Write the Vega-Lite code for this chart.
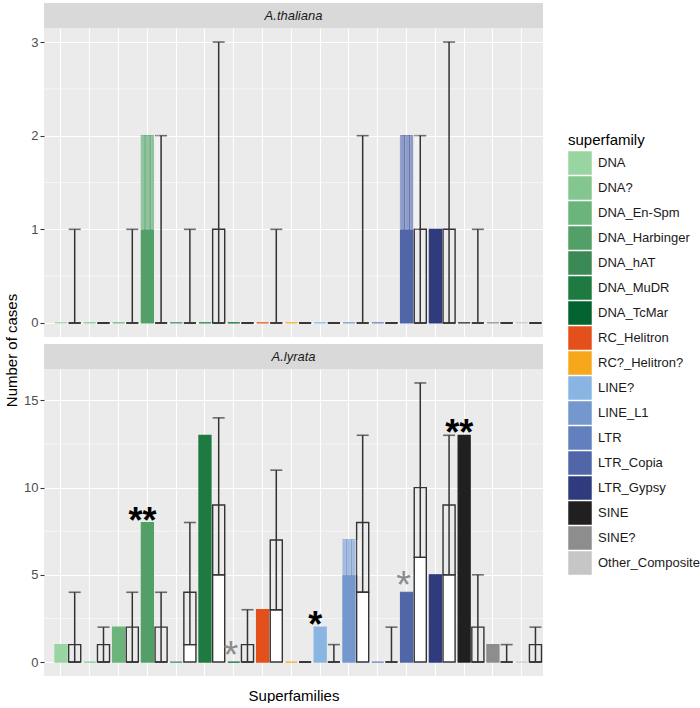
{
  "$schema": "https://vega.github.io/schema/vega-lite/v6.json",
  "padding": {"left": 4, "top": 3, "right": 0, "bottom": 0},
  "config": {
    "font": "Liberation Sans",
    "view": {"stroke": null},
    "axis": {"gridColor": "#ffffff", "gridWidth": 1.1, "labelColor": "#4d4d4d", "labelFontSize": 13, "tickColor": "#333333", "tickSize": 4, "tickWidth": 1.1, "titleColor": "#000000", "titleFontWeight": "normal", "titleFontSize": 15, "domain": false}
  },
  "datasets": {
    "main": [
      {"species": "A.thaliana", "superfamily": "DNA", "observed": 0, "q1": 0, "median": 0, "q3": 0, "max": 1},
      {"species": "A.thaliana", "superfamily": "DNA?", "observed": 0, "q1": 0, "median": 0, "q3": 0, "max": 0},
      {"species": "A.thaliana", "superfamily": "DNA_En-Spm", "observed": 0, "q1": 0, "median": 0, "q3": 0, "max": 1},
      {"species": "A.thaliana", "superfamily": "DNA_Harbinger", "observed": 2, "q1": 0, "median": 0, "q3": 0, "max": 2},
      {"species": "A.thaliana", "superfamily": "DNA_hAT", "observed": 0, "q1": 0, "median": 0, "q3": 0, "max": 1},
      {"species": "A.thaliana", "superfamily": "DNA_MuDR", "observed": 0, "q1": 0, "median": 0, "q3": 1, "max": 3},
      {"species": "A.thaliana", "superfamily": "DNA_TcMar", "observed": 0, "q1": 0, "median": 0, "q3": 0, "max": 0},
      {"species": "A.thaliana", "superfamily": "RC_Helitron", "observed": 0, "q1": 0, "median": 0, "q3": 0, "max": 1},
      {"species": "A.thaliana", "superfamily": "RC?_Helitron?", "observed": 0, "q1": 0, "median": 0, "q3": 0, "max": 0},
      {"species": "A.thaliana", "superfamily": "LINE?", "observed": 0, "q1": 0, "median": 0, "q3": 0, "max": 0},
      {"species": "A.thaliana", "superfamily": "LINE_L1", "observed": 0, "q1": 0, "median": 0, "q3": 0, "max": 2},
      {"species": "A.thaliana", "superfamily": "LTR", "observed": 0, "q1": 0, "median": 0, "q3": 0, "max": 0},
      {"species": "A.thaliana", "superfamily": "LTR_Copia", "observed": 2, "q1": 0, "median": 0, "q3": 1, "max": 2},
      {"species": "A.thaliana", "superfamily": "LTR_Gypsy", "observed": 1, "q1": 0, "median": 0, "q3": 1, "max": 3},
      {"species": "A.thaliana", "superfamily": "SINE", "observed": 0, "q1": 0, "median": 0, "q3": 0, "max": 1},
      {"species": "A.thaliana", "superfamily": "SINE?", "observed": 0, "q1": 0, "median": 0, "q3": 0, "max": 0},
      {"species": "A.thaliana", "superfamily": "Other_Composite", "observed": 0, "q1": 0, "median": 0, "q3": 0, "max": 0},
      {"species": "A.lyrata", "superfamily": "DNA", "observed": 1, "q1": 0, "median": 0, "q3": 1, "max": 4},
      {"species": "A.lyrata", "superfamily": "DNA?", "observed": 0, "q1": 0, "median": 0, "q3": 1, "max": 2},
      {"species": "A.lyrata", "superfamily": "DNA_En-Spm", "observed": 2, "q1": 0, "median": 0, "q3": 2, "max": 4},
      {"species": "A.lyrata", "superfamily": "DNA_Harbinger", "observed": 8, "q1": 0, "median": 0, "q3": 2, "max": 4},
      {"species": "A.lyrata", "superfamily": "DNA_hAT", "observed": 0, "q1": 0, "median": 1, "q3": 4, "max": 8},
      {"species": "A.lyrata", "superfamily": "DNA_MuDR", "observed": 13, "q1": 0, "median": 5, "q3": 9, "max": 14},
      {"species": "A.lyrata", "superfamily": "DNA_TcMar", "observed": 0, "q1": 0, "median": 0, "q3": 1, "max": 3},
      {"species": "A.lyrata", "superfamily": "RC_Helitron", "observed": 3, "q1": 0, "median": 3, "q3": 7, "max": 11},
      {"species": "A.lyrata", "superfamily": "RC?_Helitron?", "observed": 0, "q1": 0, "median": 0, "q3": 0, "max": 0},
      {"species": "A.lyrata", "superfamily": "LINE?", "observed": 2, "q1": 0, "median": 0, "q3": 0, "max": 1},
      {"species": "A.lyrata", "superfamily": "LINE_L1", "observed": 7, "q1": 0, "median": 4, "q3": 8, "max": 13},
      {"species": "A.lyrata", "superfamily": "LTR", "observed": 0, "q1": 0, "median": 0, "q3": 0, "max": 2},
      {"species": "A.lyrata", "superfamily": "LTR_Copia", "observed": 4, "q1": 0, "median": 6, "q3": 10, "max": 16},
      {"species": "A.lyrata", "superfamily": "LTR_Gypsy", "observed": 5, "q1": 0, "median": 5, "q3": 9, "max": 13},
      {"species": "A.lyrata", "superfamily": "SINE", "observed": 13, "q1": 0, "median": 0, "q3": 2, "max": 5},
      {"species": "A.lyrata", "superfamily": "SINE?", "observed": 1, "q1": 0, "median": 0, "q3": 0, "max": 1},
      {"species": "A.lyrata", "superfamily": "Other_Composite", "observed": 0, "q1": 0, "median": 0, "q3": 1, "max": 2}
    ],
    "hatch": [
      {"species": "A.thaliana", "superfamily": "DNA_Harbinger", "lo": 1, "hi": 2, "stripe": "s1"},
      {"species": "A.thaliana", "superfamily": "DNA_Harbinger", "lo": 1, "hi": 2, "stripe": "s2"},
      {"species": "A.thaliana", "superfamily": "DNA_Harbinger", "lo": 1, "hi": 2, "stripe": "s3"},
      {"species": "A.thaliana", "superfamily": "DNA_Harbinger", "lo": 1, "hi": 2, "stripe": "s4"},
      {"species": "A.thaliana", "superfamily": "LTR_Copia", "lo": 1, "hi": 2, "stripe": "s1"},
      {"species": "A.thaliana", "superfamily": "LTR_Copia", "lo": 1, "hi": 2, "stripe": "s2"},
      {"species": "A.thaliana", "superfamily": "LTR_Copia", "lo": 1, "hi": 2, "stripe": "s3"},
      {"species": "A.thaliana", "superfamily": "LTR_Copia", "lo": 1, "hi": 2, "stripe": "s4"},
      {"species": "A.lyrata", "superfamily": "LINE_L1", "lo": 5, "hi": 7, "stripe": "s1"},
      {"species": "A.lyrata", "superfamily": "LINE_L1", "lo": 5, "hi": 7, "stripe": "s2"},
      {"species": "A.lyrata", "superfamily": "LINE_L1", "lo": 5, "hi": 7, "stripe": "s3"},
      {"species": "A.lyrata", "superfamily": "LINE_L1", "lo": 5, "hi": 7, "stripe": "s4"}
    ],
    "stars": [
      {"species": "A.lyrata", "superfamily": "DNA_Harbinger", "observed": 8, "star": "**", "level": "strong"},
      {"species": "A.lyrata", "superfamily": "DNA_TcMar", "observed": 0, "star": "*", "level": "weak"},
      {"species": "A.lyrata", "superfamily": "LINE?", "observed": 2, "star": "*", "level": "strong"},
      {"species": "A.lyrata", "superfamily": "LTR_Copia", "observed": 4, "star": "*", "level": "weak"},
      {"species": "A.lyrata", "superfamily": "SINE", "observed": 13, "star": "**", "level": "strong"}
    ]
  },
  "spacing": 0,
  "bounds": "flush",
  "resolve": {"scale": {"x": "independent", "y": "independent"}},
  "vconcat": [
    {
      "width": 499, "height": 25,
      "view": {"fill": "#d9d9d9", "stroke": null},
      "data": {"values": [{"species": "A.thaliana"}]},
      "mark": {"type": "text", "fontStyle": "italic", "fontSize": 13, "color": "#1a1a1a"},
      "encoding": {"text": {"field": "species"}}
    },
    {
      "width": 499, "height": 309,
      "view": {"fill": "#ebebeb", "stroke": null},
      "resolve": {"scale": {"xOffset": "independent"}},
      "layer": [
        {
          "data": {"values": [{"v": 0.5}, {"v": 1.5}, {"v": 2.5}]},
          "mark": {"type": "rule", "color": "#ffffff", "strokeWidth": 0.55},
          "encoding": {"y": {"field": "v", "type": "quantitative", "scale": {"domain": [-0.15, 3.15], "nice": false, "zero": false}, "axis": {"values": [0, 1, 2, 3], "format": "d", "title": null, "grid": true}}}
        },
        {
          "data": {"name": "main"},
          "transform": [{"filter": "datum.species == 'A.thaliana'"}],
          "layer": [
            {
              "mark": {"type": "bar", "strokeWidth": 1.2},
              "encoding": {
                "x": {"field": "superfamily", "type": "nominal", "sort": ["DNA","DNA?","DNA_En-Spm","DNA_Harbinger","DNA_hAT","DNA_MuDR","DNA_TcMar","RC_Helitron","RC?_Helitron?","LINE?","LINE_L1","LTR","LTR_Copia","LTR_Gypsy","SINE","SINE?","Other_Composite"], "scale": {"paddingInner": 0, "paddingOuter": 0.164, "align": 1}, "axis": {"labels": false, "ticks": false, "domain": false, "title": null, "grid": true, "bandPosition": 0.262}},
                "xOffset": {"datum": "obs", "type": "nominal", "scale": {"domain": ["obs", "sim"], "paddingInner": 0.12, "paddingOuter": 0.11}},
                "y": {"field": "observed", "type": "quantitative"},
                "fill": {"field": "superfamily", "type": "nominal", "scale": {"domain": ["DNA","DNA?","DNA_En-Spm","DNA_Harbinger","DNA_hAT","DNA_MuDR","DNA_TcMar","RC_Helitron","RC?_Helitron?","LINE?","LINE_L1","LTR","LTR_Copia","LTR_Gypsy","SINE","SINE?","Other_Composite"], "range": ["#99d5a1","#84c690","#6bb47c","#52a067","#3b8a55","#1e7a40","#046431","#e4501b","#f7a81a","#8ab5e3","#7497cd","#6280bd","#5066a8","#2f3b7d","#221f20","#8d8d8d","#c6c6c6"]}, "legend": {"title": "superfamily", "orient": "none", "legendX": 524, "legendY": 130, "symbolType": "square", "symbolSize": 552, "symbolStrokeWidth": 0, "symbolOpacity": 1, "rowPadding": 1, "labelFontSize": 13, "labelColor": "#1a1a1a", "titleFontSize": 15, "titleFontWeight": "normal", "titleColor": "#000000", "labelOffset": 6, "titlePadding": 3}},
                "stroke": {"field": "superfamily", "type": "nominal", "scale": {"domain": ["DNA","DNA?","DNA_En-Spm","DNA_Harbinger","DNA_hAT","DNA_MuDR","DNA_TcMar","RC_Helitron","RC?_Helitron?","LINE?","LINE_L1","LTR","LTR_Copia","LTR_Gypsy","SINE","SINE?","Other_Composite"], "range": ["#99d5a1","#84c690","#6bb47c","#52a067","#3b8a55","#1e7a40","#046431","#e4501b","#f7a81a","#8ab5e3","#7497cd","#6280bd","#5066a8","#2f3b7d","#221f20","#8d8d8d","#c6c6c6"]}, "legend": null}
              }
            },
            {
              "mark": {"type": "rule", "color": "#333333", "strokeWidth": 1.5},
              "encoding": {
                "x": {"field": "superfamily", "type": "nominal", "sort": ["DNA","DNA?","DNA_En-Spm","DNA_Harbinger","DNA_hAT","DNA_MuDR","DNA_TcMar","RC_Helitron","RC?_Helitron?","LINE?","LINE_L1","LTR","LTR_Copia","LTR_Gypsy","SINE","SINE?","Other_Composite"]},
                "xOffset": {"datum": "sim", "type": "nominal", "scale": {"domain": ["obs", "sim"], "paddingInner": 0.12, "paddingOuter": 0.11}},
                "y": {"field": "q1", "type": "quantitative"},
                "y2": {"field": "max"}
              }
            },
            {
              "mark": {"type": "tick", "color": "#333333", "thickness": 1.6, "size": 12},
              "encoding": {
                "x": {"field": "superfamily", "type": "nominal", "sort": ["DNA","DNA?","DNA_En-Spm","DNA_Harbinger","DNA_hAT","DNA_MuDR","DNA_TcMar","RC_Helitron","RC?_Helitron?","LINE?","LINE_L1","LTR","LTR_Copia","LTR_Gypsy","SINE","SINE?","Other_Composite"]},
                "xOffset": {"datum": "sim", "type": "nominal", "scale": {"domain": ["obs", "sim"], "paddingInner": 0.12, "paddingOuter": 0.11}},
                "y": {"field": "max", "type": "quantitative"}
              }
            },
            {
              "mark": {"type": "bar", "fill": "#ffffff", "stroke": "#333333", "strokeWidth": 1.4},
              "encoding": {
                "x": {"field": "superfamily", "type": "nominal", "sort": ["DNA","DNA?","DNA_En-Spm","DNA_Harbinger","DNA_hAT","DNA_MuDR","DNA_TcMar","RC_Helitron","RC?_Helitron?","LINE?","LINE_L1","LTR","LTR_Copia","LTR_Gypsy","SINE","SINE?","Other_Composite"]},
                "xOffset": {"datum": "sim", "type": "nominal", "scale": {"domain": ["obs", "sim"], "paddingInner": 0.12, "paddingOuter": 0.11}},
                "y": {"field": "q1", "type": "quantitative"},
                "y2": {"field": "median"}
              }
            },
            {
              "mark": {"type": "bar", "fill": "#ffffff", "fillOpacity": 0, "stroke": "#333333", "strokeWidth": 1.4},
              "encoding": {
                "x": {"field": "superfamily", "type": "nominal", "sort": ["DNA","DNA?","DNA_En-Spm","DNA_Harbinger","DNA_hAT","DNA_MuDR","DNA_TcMar","RC_Helitron","RC?_Helitron?","LINE?","LINE_L1","LTR","LTR_Copia","LTR_Gypsy","SINE","SINE?","Other_Composite"]},
                "xOffset": {"datum": "sim", "type": "nominal", "scale": {"domain": ["obs", "sim"], "paddingInner": 0.12, "paddingOuter": 0.11}},
                "y": {"field": "median", "type": "quantitative"},
                "y2": {"field": "q3"}
              }
            }
          ]
        },
        {
          "data": {"name": "hatch"},
          "transform": [{"filter": "datum.species == 'A.thaliana'"}],
          "mark": {"type": "bar", "fill": "#ffffff", "fillOpacity": 0.35, "stroke": "#ffffff", "strokeOpacity": 0.5, "strokeWidth": 0.5},
          "encoding": {
            "x": {"field": "superfamily", "type": "nominal", "sort": ["DNA","DNA?","DNA_En-Spm","DNA_Harbinger","DNA_hAT","DNA_MuDR","DNA_TcMar","RC_Helitron","RC?_Helitron?","LINE?","LINE_L1","LTR","LTR_Copia","LTR_Gypsy","SINE","SINE?","Other_Composite"]},
            "xOffset": {"field": "stripe", "type": "nominal", "scale": {"domain": ["s1", "s2", "s3", "s4"], "paddingInner": 0.3, "paddingOuter": 2.65, "align": 0.09}},
            "y": {"field": "lo", "type": "quantitative"},
            "y2": {"field": "hi"}
          }
        }
      ]
    },
    {
      "width": 499, "height": 7,
      "data": {"values": [{"a": 1}]},
      "mark": {"type": "point", "opacity": 0}
    },
    {
      "width": 499, "height": 25,
      "view": {"fill": "#d9d9d9", "stroke": null},
      "data": {"values": [{"species": "A.lyrata"}]},
      "mark": {"type": "text", "fontStyle": "italic", "fontSize": 13, "color": "#1a1a1a"},
      "encoding": {"text": {"field": "species"}}
    },
    {
      "width": 499, "height": 307,
      "view": {"fill": "#ebebeb", "stroke": null},
      "resolve": {"scale": {"xOffset": "independent"}},
      "layer": [
        {
          "data": {"values": [{"v": 2.5}, {"v": 7.5}, {"v": 12.5}]},
          "mark": {"type": "rule", "color": "#ffffff", "strokeWidth": 0.55},
          "encoding": {"y": {"field": "v", "type": "quantitative", "scale": {"domain": [-0.8, 16.8], "nice": false, "zero": false}, "axis": {"values": [0, 5, 10, 15], "format": "d", "title": "Number of cases", "titleY": -19, "grid": true}}}
        },
        {
          "data": {"name": "main"},
          "transform": [{"filter": "datum.species == 'A.lyrata'"}],
          "layer": [
            {
              "mark": {"type": "bar", "strokeWidth": 1.2},
              "encoding": {
                "x": {"field": "superfamily", "type": "nominal", "sort": ["DNA","DNA?","DNA_En-Spm","DNA_Harbinger","DNA_hAT","DNA_MuDR","DNA_TcMar","RC_Helitron","RC?_Helitron?","LINE?","LINE_L1","LTR","LTR_Copia","LTR_Gypsy","SINE","SINE?","Other_Composite"], "scale": {"paddingInner": 0, "paddingOuter": 0.164, "align": 1}, "axis": {"labels": false, "ticks": false, "domain": false, "title": "Superfamilies", "titlePadding": 12, "grid": true, "bandPosition": 0.262}},
                "xOffset": {"datum": "obs", "type": "nominal", "scale": {"domain": ["obs", "sim"], "paddingInner": 0.12, "paddingOuter": 0.11}},
                "y": {"field": "observed", "type": "quantitative"},
                "fill": {"field": "superfamily", "type": "nominal", "scale": {"domain": ["DNA","DNA?","DNA_En-Spm","DNA_Harbinger","DNA_hAT","DNA_MuDR","DNA_TcMar","RC_Helitron","RC?_Helitron?","LINE?","LINE_L1","LTR","LTR_Copia","LTR_Gypsy","SINE","SINE?","Other_Composite"], "range": ["#99d5a1","#84c690","#6bb47c","#52a067","#3b8a55","#1e7a40","#046431","#e4501b","#f7a81a","#8ab5e3","#7497cd","#6280bd","#5066a8","#2f3b7d","#221f20","#8d8d8d","#c6c6c6"]}, "legend": {"title": "superfamily", "orient": "none", "legendX": 524, "legendY": 130, "symbolType": "square", "symbolSize": 552, "symbolStrokeWidth": 0, "symbolOpacity": 1, "rowPadding": 1, "labelFontSize": 13, "labelColor": "#1a1a1a", "titleFontSize": 15, "titleFontWeight": "normal", "titleColor": "#000000", "labelOffset": 6, "titlePadding": 3}},
                "stroke": {"field": "superfamily", "type": "nominal", "scale": {"domain": ["DNA","DNA?","DNA_En-Spm","DNA_Harbinger","DNA_hAT","DNA_MuDR","DNA_TcMar","RC_Helitron","RC?_Helitron?","LINE?","LINE_L1","LTR","LTR_Copia","LTR_Gypsy","SINE","SINE?","Other_Composite"], "range": ["#99d5a1","#84c690","#6bb47c","#52a067","#3b8a55","#1e7a40","#046431","#e4501b","#f7a81a","#8ab5e3","#7497cd","#6280bd","#5066a8","#2f3b7d","#221f20","#8d8d8d","#c6c6c6"]}, "legend": null}
              }
            },
            {
              "mark": {"type": "rule", "color": "#333333", "strokeWidth": 1.5},
              "encoding": {
                "x": {"field": "superfamily", "type": "nominal", "sort": ["DNA","DNA?","DNA_En-Spm","DNA_Harbinger","DNA_hAT","DNA_MuDR","DNA_TcMar","RC_Helitron","RC?_Helitron?","LINE?","LINE_L1","LTR","LTR_Copia","LTR_Gypsy","SINE","SINE?","Other_Composite"]},
                "xOffset": {"datum": "sim", "type": "nominal", "scale": {"domain": ["obs", "sim"], "paddingInner": 0.12, "paddingOuter": 0.11}},
                "y": {"field": "q1", "type": "quantitative"},
                "y2": {"field": "max"}
              }
            },
            {
              "mark": {"type": "tick", "color": "#333333", "thickness": 1.6, "size": 12},
              "encoding": {
                "x": {"field": "superfamily", "type": "nominal", "sort": ["DNA","DNA?","DNA_En-Spm","DNA_Harbinger","DNA_hAT","DNA_MuDR","DNA_TcMar","RC_Helitron","RC?_Helitron?","LINE?","LINE_L1","LTR","LTR_Copia","LTR_Gypsy","SINE","SINE?","Other_Composite"]},
                "xOffset": {"datum": "sim", "type": "nominal", "scale": {"domain": ["obs", "sim"], "paddingInner": 0.12, "paddingOuter": 0.11}},
                "y": {"field": "max", "type": "quantitative"}
              }
            },
            {
              "mark": {"type": "bar", "fill": "#ffffff", "stroke": "#333333", "strokeWidth": 1.4},
              "encoding": {
                "x": {"field": "superfamily", "type": "nominal", "sort": ["DNA","DNA?","DNA_En-Spm","DNA_Harbinger","DNA_hAT","DNA_MuDR","DNA_TcMar","RC_Helitron","RC?_Helitron?","LINE?","LINE_L1","LTR","LTR_Copia","LTR_Gypsy","SINE","SINE?","Other_Composite"]},
                "xOffset": {"datum": "sim", "type": "nominal", "scale": {"domain": ["obs", "sim"], "paddingInner": 0.12, "paddingOuter": 0.11}},
                "y": {"field": "q1", "type": "quantitative"},
                "y2": {"field": "median"}
              }
            },
            {
              "mark": {"type": "bar", "fill": "#ffffff", "fillOpacity": 0, "stroke": "#333333", "strokeWidth": 1.4},
              "encoding": {
                "x": {"field": "superfamily", "type": "nominal", "sort": ["DNA","DNA?","DNA_En-Spm","DNA_Harbinger","DNA_hAT","DNA_MuDR","DNA_TcMar","RC_Helitron","RC?_Helitron?","LINE?","LINE_L1","LTR","LTR_Copia","LTR_Gypsy","SINE","SINE?","Other_Composite"]},
                "xOffset": {"datum": "sim", "type": "nominal", "scale": {"domain": ["obs", "sim"], "paddingInner": 0.12, "paddingOuter": 0.11}},
                "y": {"field": "median", "type": "quantitative"},
                "y2": {"field": "q3"}
              }
            }
          ]
        },
        {
          "data": {"name": "hatch"},
          "transform": [{"filter": "datum.species == 'A.lyrata'"}],
          "mark": {"type": "bar", "fill": "#ffffff", "fillOpacity": 0.35, "stroke": "#ffffff", "strokeOpacity": 0.5, "strokeWidth": 0.5},
          "encoding": {
            "x": {"field": "superfamily", "type": "nominal", "sort": ["DNA","DNA?","DNA_En-Spm","DNA_Harbinger","DNA_hAT","DNA_MuDR","DNA_TcMar","RC_Helitron","RC?_Helitron?","LINE?","LINE_L1","LTR","LTR_Copia","LTR_Gypsy","SINE","SINE?","Other_Composite"]},
            "xOffset": {"field": "stripe", "type": "nominal", "scale": {"domain": ["s1", "s2", "s3", "s4"], "paddingInner": 0.3, "paddingOuter": 2.65, "align": 0.09}},
            "y": {"field": "lo", "type": "quantitative"},
            "y2": {"field": "hi"}
          }
        },
        {
          "data": {"name": "stars"},
          "transform": [{"filter": "datum.level == 'strong'"}],
          "mark": {"type": "text", "fontSize": 36, "fontWeight": "bold", "color": "#000000", "baseline": "alphabetic", "dy": 10},
          "encoding": {
            "x": {"field": "superfamily", "type": "nominal", "sort": ["DNA","DNA?","DNA_En-Spm","DNA_Harbinger","DNA_hAT","DNA_MuDR","DNA_TcMar","RC_Helitron","RC?_Helitron?","LINE?","LINE_L1","LTR","LTR_Copia","LTR_Gypsy","SINE","SINE?","Other_Composite"]},
            "xOffset": {"datum": "obs", "type": "nominal", "scale": {"domain": ["obs", "sim"], "paddingInner": 0.12, "paddingOuter": 0.11}},
            "y": {"field": "observed", "type": "quantitative"},
            "text": {"field": "star"}
          }
        },
        {
          "data": {"name": "stars"},
          "transform": [{"filter": "datum.level == 'weak'"}],
          "mark": {"type": "text", "fontSize": 38, "color": "#8c8c8c", "baseline": "alphabetic", "dy": 6, "dx": 2},
          "encoding": {
            "x": {"field": "superfamily", "type": "nominal", "sort": ["DNA","DNA?","DNA_En-Spm","DNA_Harbinger","DNA_hAT","DNA_MuDR","DNA_TcMar","RC_Helitron","RC?_Helitron?","LINE?","LINE_L1","LTR","LTR_Copia","LTR_Gypsy","SINE","SINE?","Other_Composite"]},
            "xOffset": {"datum": "obs", "type": "nominal", "scale": {"domain": ["obs", "sim"], "paddingInner": 0.12, "paddingOuter": 0.11}},
            "y": {"field": "observed", "type": "quantitative"},
            "text": {"field": "star"}
          }
        }
      ]
    }
  ]
}
